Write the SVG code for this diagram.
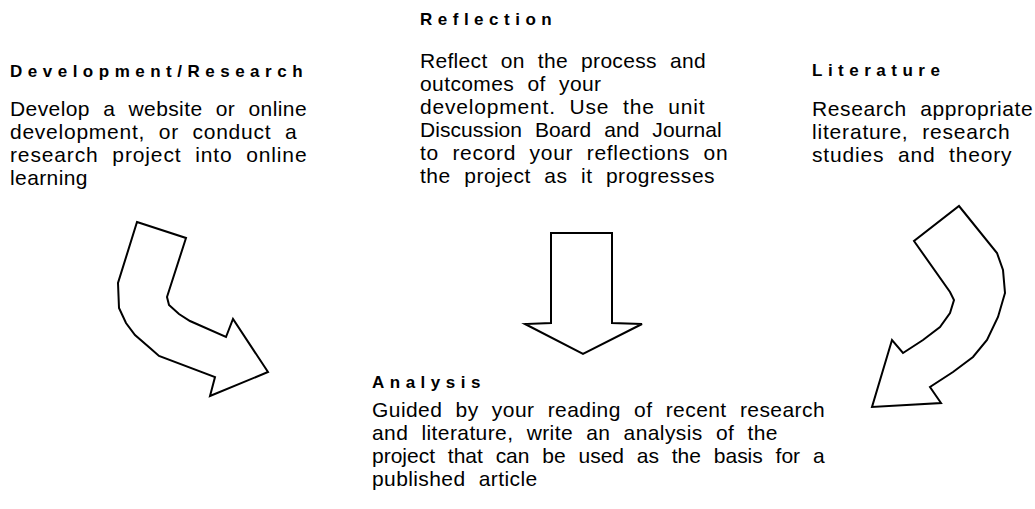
<svg xmlns="http://www.w3.org/2000/svg" width="1035" height="509" viewBox="0 0 1035 509">
<style>
.h{font-family:"Liberation Sans",Arial,sans-serif;font-weight:bold;font-size:17px;letter-spacing:5.5px;fill:#000;}
.b{font-family:"Liberation Sans",Arial,sans-serif;font-size:21px;letter-spacing:0.4px;word-spacing:7px;fill:#000;}
.arrow{fill:#fff;stroke:#000;stroke-width:2;stroke-linejoin:miter;}
</style>
<rect width="1035" height="509" fill="#fff"/>
<g id="development">
<text class="h" x="10" y="77">Development/Research</text>
<text class="b" x="10" y="116" textLength="297" lengthAdjust="spacing">Develop a website or online</text>
<text class="b" x="10" y="139" textLength="287" lengthAdjust="spacing">development, or conduct a</text>
<text class="b" x="10" y="162" textLength="297" lengthAdjust="spacing">research project into online</text>
<text class="b" x="10" y="185">learning</text>
</g>
<g id="reflection">
<text class="h" x="420" y="25">Reflection</text>
<text class="b" x="420" y="68" textLength="286" lengthAdjust="spacing">Reflect on the process and</text>
<text class="b" x="420" y="91">outcomes of your</text>
<text class="b" x="420" y="114" textLength="285" lengthAdjust="spacing">development. Use the unit</text>
<text class="b" x="420" y="137" textLength="302" lengthAdjust="spacing">Discussion Board and Journal</text>
<text class="b" x="420" y="160" textLength="308" lengthAdjust="spacing">to record your reflections on</text>
<text class="b" x="420" y="183" textLength="295" lengthAdjust="spacing">the project as it progresses</text>
</g>
<g id="literature">
<text class="h" x="812" y="76">Literature</text>
<text class="b" x="812" y="116" textLength="221" lengthAdjust="spacing">Research appropriate</text>
<text class="b" x="812" y="139" textLength="198" lengthAdjust="spacing">literature, research</text>
<text class="b" x="812" y="162" textLength="200" lengthAdjust="spacing">studies and theory</text>
</g>
<g id="analysis">
<text class="h" x="372" y="388">Analysis</text>
<text class="b" x="372" y="417" textLength="453" lengthAdjust="spacing">Guided by your reading of recent research</text>
<text class="b" x="372" y="440">and literature, write an analysis of the</text>
<text class="b" x="372" y="463" textLength="453" lengthAdjust="spacing">project that can be used as the basis for a</text>
<text class="b" x="372" y="486">published article</text>
</g>
<g id="connectors">
<polygon class="arrow" points="137,222 186,238 167,297 169,305 179,314 190,321 226,337 233,319 268,372 210,396 215,377 159,356 150,348 135,335 126,323 119,308 118,283"/>
<polygon class="arrow" points="551,233 612,233 612,323 642,324 583,354 525,324 551,323"/>
<polygon class="arrow" points="959,206 997,253 1003,270 1005,293 998,317 987,340 973,357 953,372 930,387 941,403 872,407 892,340 903,353 923,340 940,327 950,313 954,300 950,292 914,241"/>
</g>
</svg>
